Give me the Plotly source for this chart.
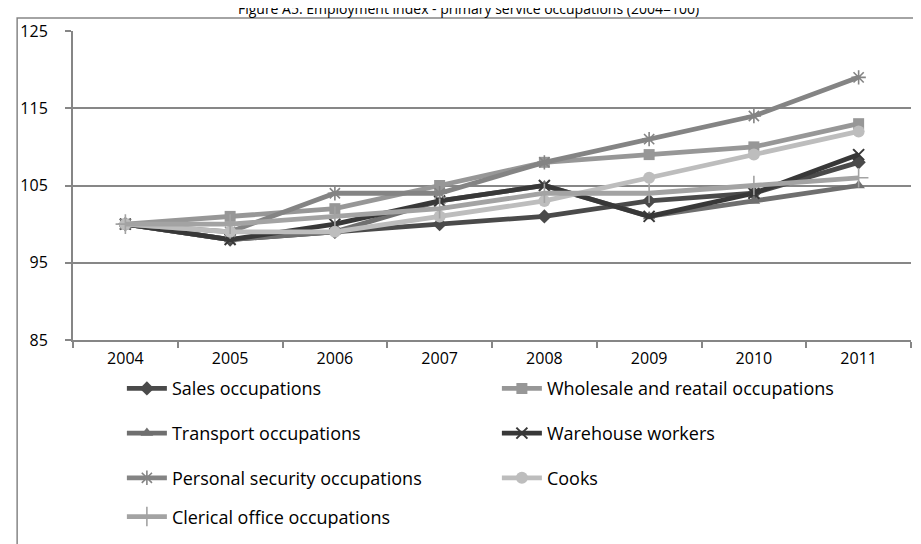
import plotly.graph_objects as go

years = ["2004", "2005", "2006", "2007", "2008", "2009", "2010", "2011"]
sales = [100, 98, 99, 100, 101, 103, 104, 108]
wholesale = [100, 101, 102, 105, 108, 109, 110, 113]
transport = [100, 98, 99, 103, 105, 101, 103, 105]
warehouse = [100, 98, 100, 103, 105, 101, 104, 109]
security = [100, 99, 104, 104, 108, 111, 114, 119]
cooks = [100, 99, 99, 101, 103, 106, 109, 112]
clerical = [100, 100, 101, 102, 104, 104, 105, 106]
y_ticks = [85, 95, 105, 115, 125]

W, H = 921, 544
ML, MR, MT, MB = 63, 18, 21, 212
PW, PH = W - ML - MR, H - MT - MB
FONT = "Open Sans"

def px_x(p):
    return (p - ML) / PW

def px_y(p):
    return (H - MB - p) / PH

series = [
    ("Sales occupations", sales, "#4a4a4a", "diamond", 11, None, "legend"),
    ("Wholesale and reatail occupations", wholesale, "#979797", "square", 11, None, "legend"),
    ("Transport occupations", transport, "#6f6f6f", "triangle-up", 11, None, "legend2"),
    ("Warehouse workers", warehouse, "#383838", "x-thin-open", 11, 2, "legend2"),
    ("Personal security occupations", security, "#848484", "asterisk-open", 12, 1.6, "legend3"),
    ("Cooks", cooks, "#bdbdbd", "circle", 12, None, "legend3"),
    ("Clerical office occupations", clerical, "#a3a3a3", "cross-thin-open", 14, 1.6, "legend4"),
]

fig = go.Figure()
for name, vals, col, sym, size, lw, lg in series:
    marker = dict(symbol=sym, size=size, color=col)
    if lw:
        marker["line"] = dict(color=col, width=lw)
    else:
        marker["line"] = dict(width=0)
    fig.add_trace(go.Scatter(
        x=years, y=vals, name=name, mode="lines+markers",
        line=dict(color=col, width=4.8), marker=marker, legend=lg,
    ))

legend_rows = [381, 426, 471, 510]
common = dict(orientation="h", xanchor="left", yanchor="middle",
              entrywidth=320, entrywidthmode="pixels",
              font=dict(family=FONT, size=18, color="#000000"),
              bgcolor="rgba(0,0,0,0)", itemwidth=40, tracegroupgap=0)
fig.update_layout(
    legend=dict(x=px_x(112), y=px_y(legend_rows[0]), **common),
    legend2=dict(x=px_x(112), y=px_y(legend_rows[1]), **common),
    legend3=dict(x=px_x(112), y=px_y(legend_rows[2]), **common),
    legend4=dict(x=px_x(112), y=px_y(legend_rows[3]), **common),
)

fig.update_layout(
    width=W, height=H,
    margin=dict(l=ML, r=MR, t=MT, b=MB, pad=0),
    paper_bgcolor="white", plot_bgcolor="white",
    font=dict(family=FONT, size=16, color="#000000"),
    title=dict(text="Figure A5: Employment index - primary service occupations (2004=100)",
               x=0.5, xanchor="center", xref="container", y=1 - 6 / H, yanchor="bottom",
               yref="container", font=dict(family=FONT, size=14, color="#000000")),
    showlegend=True,
)
fig.update_xaxes(
    type="category", categoryorder="array", categoryarray=years,
    range=[-0.5, len(years) - 0.5], tickson="boundaries",
    ticks="outside", ticklen=6, tickcolor="#868686", tickwidth=1.5,
    showline=True, linecolor="#868686", linewidth=2,
    showgrid=False, zeroline=False, ticklabelstandoff=3,
    tickfont=dict(family=FONT, size=16, color="#000000"),
)
fig.update_yaxes(
    range=[85, 125], tickvals=y_ticks, ticktext=[str(v) for v in y_ticks],
    ticks="outside", ticklen=6, tickcolor="#868686", tickwidth=1.5,
    showline=True, linecolor="#868686", linewidth=2,
    showgrid=True, gridcolor="#878787", gridwidth=1.5, zeroline=False,
    ticklabelstandoff=14,
    tickfont=dict(family=FONT, size=16, color="#000000"),
)
fig.add_shape(type="rect", xref="paper", yref="paper",
              x0=px_x(7), x1=px_x(930), y0=px_y(560), y1=px_y(8),
              line=dict(color="#868686", width=1.5), fillcolor="rgba(0,0,0,0)", layer="below")

fig.write_html("out.html")
